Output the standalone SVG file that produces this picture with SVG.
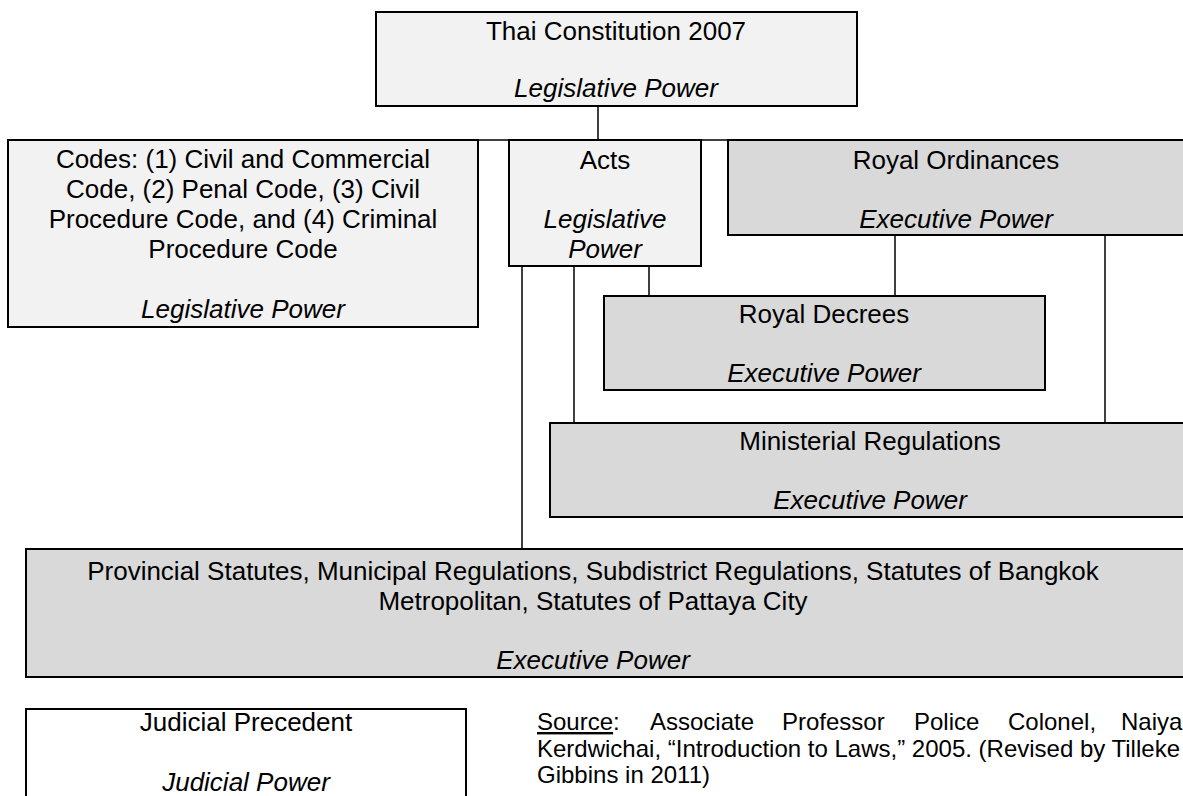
<svg xmlns="http://www.w3.org/2000/svg" width="1183" height="796" viewBox="0 0 1183 796">
<style>
.t{font-family:"Liberation Sans",Arial,sans-serif;font-size:26px;fill:#000;text-anchor:middle}
.i{font-style:italic}
.box{stroke:#000;stroke-width:2}
.leg{fill:#f2f2f2}
.exe{fill:#d9d9d9}
.wht{fill:#fff}
.con{stroke:#000;stroke-width:1.5;fill:none}
.src{font-family:"Liberation Sans",Arial,sans-serif;font-size:24px;fill:#000}
</style>
<rect width="1183" height="796" fill="#fff"/>
<g id="connectors">
<path class="con" d="M598 106V140M8 140H1183M522 266V549M574 266V423M649 266V296M895 235V296M1105 235V423"/>
</g>
<g id="constitution">
<rect class="box leg" x="376" y="12" width="481" height="94"/>
<text class="t" x="616" y="40">Thai Constitution 2007</text>
<text class="t i" x="616" y="97">Legislative Power</text>
</g>
<g id="codes">
<rect class="box leg" x="8" y="140" width="470" height="187"/>
<text class="t" x="243" y="168">Codes: (1) Civil and Commercial</text>
<text class="t" x="243" y="198">Code, (2) Penal Code, (3) Civil</text>
<text class="t" x="243" y="228">Procedure Code, and (4) Criminal</text>
<text class="t" x="243" y="258">Procedure Code</text>
<text class="t i" x="243" y="318">Legislative Power</text>
</g>
<g id="acts">
<rect class="box leg" x="509" y="140" width="192" height="126"/>
<text class="t" x="605" y="169">Acts</text>
<text class="t i" x="605" y="228">Legislative</text>
<text class="t i" x="605" y="258">Power</text>
</g>
<g id="royal-ordinances">
<rect class="box exe" x="728" y="140" width="470" height="95"/>
<text class="t" x="956" y="169">Royal Ordinances</text>
<text class="t i" x="956" y="228">Executive Power</text>
</g>
<g id="royal-decrees">
<rect class="box exe" x="604" y="296" width="441" height="94"/>
<text class="t" x="824" y="323">Royal Decrees</text>
<text class="t i" x="824" y="382">Executive Power</text>
</g>
<g id="ministerial">
<rect class="box exe" x="550" y="423" width="650" height="94"/>
<text class="t" x="870" y="450">Ministerial Regulations</text>
<text class="t i" x="870" y="509">Executive Power</text>
</g>
<g id="provincial">
<rect class="box exe" x="26" y="549" width="1170" height="128"/>
<text class="t" x="593" y="580">Provincial Statutes, Municipal Regulations, Subdistrict Regulations, Statutes of Bangkok</text>
<text class="t" x="593" y="610">Metropolitan, Statutes of Pattaya City</text>
<text class="t i" x="593" y="669">Executive Power</text>
</g>
<g id="judicial">
<rect class="box wht" x="26" y="709" width="440" height="100"/>
<text class="t" x="246" y="731">Judicial Precedent</text>
<text class="t i" x="246" y="791">Judicial Power</text>
</g>
<g id="source">
<text class="src" y="730"><tspan x="537" text-decoration="underline">Source</tspan><tspan>:</tspan><tspan x="650">Associate</tspan><tspan x="782">Professor</tspan><tspan x="914">Police</tspan><tspan x="1008">Colonel,</tspan><tspan x="1121">Naiya</tspan></text>
<text class="src" x="537" y="757">Kerdwichai, “Introduction to Laws,” 2005. (Revised by Tilleke</text>
<text class="src" x="537" y="783">Gibbins in 2011)</text>
</g>
</svg>
